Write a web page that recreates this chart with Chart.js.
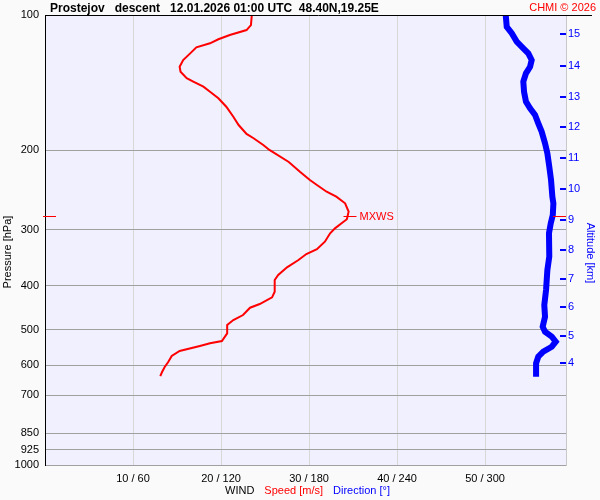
<!DOCTYPE html>
<html>
<head>
<meta charset="utf-8">
<script src="https://cdn.jsdelivr.net/npm/chart.js@4"></script>
<style>
  body { margin: 0; background: #fafafa; }
  #wrap { width: 600px; height: 500px; }
</style>
</head>
<body>
<div id="wrap"><canvas id="chart-wind" width="600" height="500"></canvas></div>
<script>
    // pressure axis ticks [hPa]
    const pressureTicks = [100, 200, 300, 400, 500, 600, 700, 850, 925, 1000];
    const speedTicks = [10, 20, 30, 40, 50];
    const dirTicks = [60, 120, 180, 240, 300];
    // altitude ticks on the right: km and the pressure level they sit at
    const altKm = [4, 5, 6, 7, 8, 9, 10, 11, 12, 13, 14, 15];
    const altP = [592.5, 516, 446.4, 386.7, 332.3, 285.5, 243.6, 207.6, 177.7, 151.9, 129.6, 110.2];

    // wind speed profile
    const speedP = [100, 105.3, 108.0, 110.8, 113.2, 115.6, 118.0, 121.7, 125.9, 130.3, 133.7, 138.2, 140.6, 144.3,
        148.1, 153.1, 159.9, 168.3, 175.6, 183.8, 187.9, 194.5, 199.5, 212.1, 223.4, 232.6, 238.6, 247.0, 253.4,
        262.1, 273.6, 284.4, 290.3, 297.9, 305.6, 319.0, 331.6, 339.7, 350.3, 363.7, 378.3, 388.1, 412.0, 424.0,
        438.8, 447.2, 464.2, 476.3, 488.6, 509.8, 530.3, 536.6, 544.0, 558.1, 572.5, 590.3, 605.6, 621.4, 634.3];
    const speedV = [23.5, 23.4, 22.9, 21.0, 19.7, 18.75, 17.2, 16.5, 15.7, 15.3, 15.4, 16.1, 16.85, 18.0,
        18.75, 19.7, 20.6, 21.4, 22.0, 22.9, 23.7, 24.8, 25.5, 27.7, 29.0, 30.1, 30.9, 32.0, 33.1,
        34.1, 34.5, 34.3, 33.7, 32.95, 32.4, 31.8, 30.9, 29.7, 28.8, 27.5, 26.5, 26.1, 26.1, 25.8,
        24.4, 23.3, 22.5, 21.4, 20.7, 20.7, 20.1, 18.75, 17.6, 15.3, 14.4, 14.0, 13.6, 13.3, 13.1];

    // wind direction profile
    const dirP = [100, 106.2, 109.8, 114.6, 118.6, 121.7, 125.9, 130.3, 134.8, 140.6, 148.1, 155.8, 161.2, 166.8,
        174.1, 181.6, 192.8, 202.9, 217.3, 232.6, 253.4, 262.1, 278.3, 290.3, 305.6, 344.4, 368.8, 408.5,
        441.1, 468.3, 492.8, 505.6, 518.7, 532.2, 546.0, 560.1, 574.5, 594.3, 636.6];
    const dirV = [314.1, 314.8, 318.2, 321.6, 326.1, 329.5, 331.8, 330.7, 327.9, 326.1, 326.6, 327.9, 330.7, 334.1,
        336.3, 338.6, 340.9, 342.5, 343.8, 345.0, 345.9, 346.6, 346.2, 344.8, 343.6, 343.8, 342.5, 341.6,
        340.4, 340.9, 339.3, 340.9, 345.5, 348.2, 345.5, 339.7, 336.3, 334.8, 334.8];

    // max wind marker
    const mxwsP = 279.3;
    const mxwsSpeed = 34.6;

    const speedMax = 59.2;
    const FONT = 'Liberation Sans, Arial, sans-serif';

    const decor = {
        id: 'decor',
        beforeDraw(chart) {
            const c = chart.ctx, a = chart.chartArea;
            c.save();
            c.fillStyle = '#fafafa';
            c.fillRect(0, 0, chart.width, chart.height);
            c.fillStyle = '#f0f0ff';
            c.fillRect(a.left, a.top, a.right - a.left, a.bottom - a.top);
            c.restore();
        },
        afterDraw(chart) {
            const c = chart.ctx, a = chart.chartArea;
            const sy = chart.scales.y, sx = chart.scales.x;
            c.save();
            // top line
            c.strokeStyle = '#000';
            c.lineWidth = 1;
            c.beginPath();
            c.moveTo(a.left, a.top + 0.5);
            c.lineTo(592, a.top + 0.5);
            c.stroke();

            // title
            c.textBaseline = 'alphabetic';
            c.textAlign = 'left';
            c.fillStyle = '#000';
            c.font = 'bold 12px ' + FONT;
            c.fillText('Prostejov   descent   12.01.2026 01:00 UTC  48.40N,19.25E', 50, 12);
            c.textAlign = 'right';
            c.fillStyle = '#ff0000';
            c.font = '11px ' + FONT;
            c.fillText('CHMI \u00a9 2026', 596, 11);

            // altitude tick marks
            c.strokeStyle = '#0000ff';
            c.lineWidth = 2;
            altP.forEach(p => {
                const y = Math.round(sy.getPixelForValue(p));
                c.beginPath();
                c.moveTo(a.right - 6, y);
                c.lineTo(a.right, y);
                c.stroke();
            });

            // MXWS markers
            const my = Math.round(sy.getPixelForValue(mxwsP)) + 0.5;
            const mx = sx.getPixelForValue(mxwsSpeed);
            c.strokeStyle = '#ff0000';
            c.lineWidth = 1;
            c.beginPath();
            c.moveTo(a.left - 2, my); c.lineTo(a.left + 11, my);
            c.moveTo(mx - 6, my); c.lineTo(mx + 7, my);
            c.moveTo(a.right - 13, my); c.lineTo(a.right, my);
            c.stroke();
            c.font = '11px ' + FONT;
            c.textAlign = 'left';
            c.textBaseline = 'middle';
            c.fillStyle = '#ff0000';
            c.fillText('MXWS', mx + 10, my);

            // bottom axis title, three colours
            c.font = '11px ' + FONT;
            c.textBaseline = 'middle';
            let x = 225;
            [['WIND', '#000'], ['Speed [m/s]', '#ff0000'], ['Direction [\u00b0]', '#0000ff']].forEach(([t, col]) => {
                c.fillStyle = col;
                c.fillText(t, x, 491);
                x += c.measureText(t).width + 10;
            });

            // side titles
            c.font = '11px ' + FONT;
            c.textAlign = 'center';
            c.save();
            c.translate(8, 252);
            c.rotate(-Math.PI / 2);
            c.fillStyle = '#000';
            c.fillText('Pressure [hPa]', 0, 0);
            c.restore();
            c.save();
            c.translate(590, 253);
            c.rotate(Math.PI / 2);
            c.fillStyle = '#0000ff';
            c.fillText('Altitude [km]', 0, 0);
            c.restore();

            c.restore();
        }
    };

    const config = {
        type: 'scatter',
        data: {
            datasets: [{
                label: 'Speed',
                data: speedP.map((p, i) => ({x: speedV[i], y: p})),
                xAxisID: 'x',
                yAxisID: 'y',
                showLine: true,
                borderColor: '#ff0000',
                borderWidth: 2,
                pointRadius: 0,
                tension: 0
            }, {
                label: 'Direction',
                data: dirP.map((p, i) => ({x: dirV[i], y: p})),
                xAxisID: 'xd',
                yAxisID: 'y',
                showLine: true,
                borderColor: '#0000ff',
                borderWidth: 6,
                pointRadius: 0,
                tension: 0
            }]
        },
        options: {
            responsive: false,
            animation: false,
            layout: { padding: { top: 15, left: 0, right: 0, bottom: 0 } },
            plugins: {
                legend: { display: false },
                tooltip: { enabled: false }
            },
            scales: {
                x: {
                    type: 'linear',
                    position: 'bottom',
                    min: 0,
                    max: speedMax,
                    afterBuildTicks: s => { s.ticks = speedTicks.map(v => ({value: v})); },
                    afterFit: s => { s.height = 35; },
                    ticks: {
                        autoSkip: false,
                        maxRotation: 0,
                        padding: 7,
                        color: '#000',
                        font: { family: FONT, size: 11 },
                        callback: (v, i) => speedTicks[i] + ' / ' + dirTicks[i]
                    },
                    grid: { color: '#d8d8d8', drawTicks: false },
                    border: { color: '#a0a0a0' }
                },
                xd: {
                    type: 'linear',
                    display: false,
                    min: 0,
                    max: speedMax * 6
                },
                y: {
                    type: 'logarithmic',
                    position: 'left',
                    reverse: true,
                    min: 100,
                    max: 1000,
                    afterBuildTicks: s => { s.ticks = pressureTicks.map(v => ({value: v})); },
                    afterFit: s => { s.width = 45; },
                    ticks: {
                        autoSkip: false,
                        padding: 6,
                        color: '#000',
                        font: { family: FONT, size: 11 },
                        callback: (v, i) => String(pressureTicks[i])
                    },
                    grid: {
                        drawTicks: false,
                        color: ctx => (ctx.tick && ctx.tick.value === 100) ? 'rgba(0,0,0,0)' : '#a0a0a0'
                    },
                    border: { color: '#000' }
                },
                yAlt: {
                    type: 'logarithmic',
                    position: 'right',
                    reverse: true,
                    min: 100,
                    max: 1000,
                    afterBuildTicks: s => { s.ticks = altP.map(v => ({value: v})); },
                    afterFit: s => { s.width = 34; },
                    ticks: {
                        autoSkip: false,
                        padding: 2,
                        color: '#0000ff',
                        font: { family: FONT, size: 11 },
                        callback: (v, i) => String(altKm[i])
                    },
                    grid: { drawOnChartArea: false, drawTicks: false },
                    border: { color: '#c8c8c8' }
                }
            }
        },
        plugins: [decor]
    };

    var chartWind = new Chart(document.getElementById('chart-wind'), config);
</script>
</body>
</html>
